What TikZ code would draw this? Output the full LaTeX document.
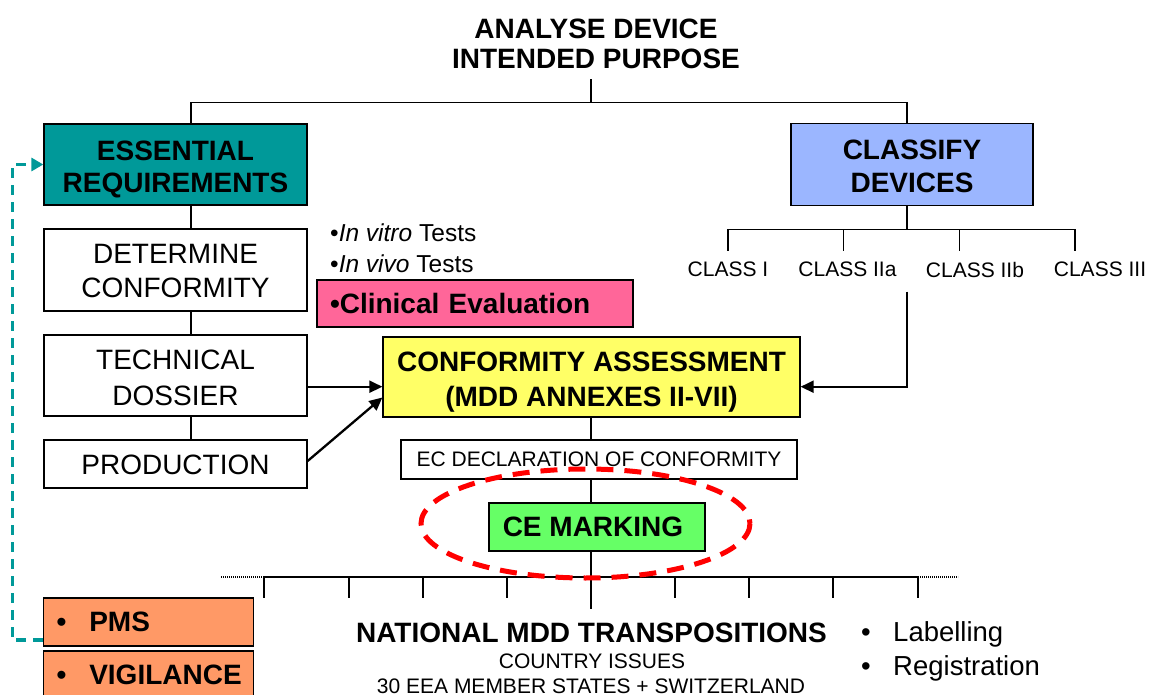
\documentclass[tikz,border=0pt]{standalone}
\usepackage{fontspec}
\setmainfont{Liberation Sans}
\usetikzlibrary{arrows.meta,calc}

\definecolor{erteal}{RGB}{0,153,153}
\definecolor{clsblue}{RGB}{155,182,255}
\definecolor{clinpink}{RGB}{255,102,153}
\definecolor{cayellow}{RGB}{255,255,102}
\definecolor{cegreen}{RGB}{102,255,102}
\definecolor{pmsorange}{RGB}{255,153,102}
\definecolor{markred}{RGB}{255,0,0}

\newcommand{\fsz}[2]{\fontsize{#1}{#2}\selectfont}
% lower a block of text inside its box without changing the box size
\newcommand{\lowertext}[2]{\raisebox{-#1}[\height][\depth]{#2}}

\begin{document}
\begin{tikzpicture}[x=1pt,y=-1pt,
  box/.style={draw=black, line width=1.3pt, rectangle, inner sep=0pt, align=center},
  wire/.style={line width=1.3pt},
  arr/.style={line width=2.3pt, -{Triangle[length=13pt,width=12pt]}},
  feedback/.style={draw=erteal, line width=3.2pt, dash pattern=on 10pt off 7pt,
    -{Triangle[length=12pt,width=13pt]}},
  dotend/.style={line width=1.6pt, dash pattern=on 1.2pt off 0.8pt},
  txt/.style={inner sep=0pt, align=center}
]
\useasboundingbox (0,0) rectangle (1152,695);

% heading
\node[txt, font={\fsz{28}{30}\bfseries}] (title) at (596,44.3)
  {ANALYSE DEVICE\\INTENDED PURPOSE};

% left column
\node[box, fill=erteal, minimum width=263pt, minimum height=81pt,
  font={\fsz{28}{32.5}\bfseries}] (er) at (175.5,164.5)
  {\lowertext{5pt}{\parbox{250pt}{\centering ESSENTIAL\\REQUIREMENTS}}};
\node[box, fill=white, minimum width=263pt, minimum height=82pt,
  font={\fsz{28}{34}}] (det) at (175.5,270)
  {\lowertext{1.5pt}{\parbox{250pt}{\centering DETERMINE\\CONFORMITY}}};
\node[box, fill=white, minimum width=263pt, minimum height=81pt,
  font={\fsz{28}{36.5}}] (tech) at (175.5,375.5)
  {\lowertext{2.5pt}{\parbox{250pt}{\centering TECHNICAL\\DOSSIER}}};
\node[box, fill=white, minimum width=263pt, minimum height=48pt,
  font={\fsz{28}{33}}] (prod) at (175.5,464) {\lowertext{1pt}{PRODUCTION}};

% right column
\node[box, fill=clsblue, minimum width=242pt, minimum height=82pt,
  font={\fsz{28}{32.7}\bfseries}] (cls) at (912,164.5)
  {\lowertext{2pt}{\parbox{230pt}{\centering CLASSIFY\\DEVICES}}};
\node[txt, font={\fsz{21}{25}}] (c1) at (728,269.7) {CLASS I};
\node[txt, font={\fsz{21}{25}}] (c2) at (847.5,269.7) {CLASS IIa};
\node[txt, font={\fsz{21}{25}}] (c3) at (975,269.7) {CLASS IIb};
\node[txt, font={\fsz{21}{25}}] (c4) at (1100,269.7) {CLASS III};

% tests and clinical evaluation
\node[inner sep=0pt, anchor=west, align=left, font={\fsz{24.5}{31}}] (tests) at (330,248)
  {•\textit{In vitro} Tests\\•\textit{In vivo} Tests};
\node[box, fill=clinpink, minimum width=316pt, minimum height=47pt, text width=290pt,
  align=left, font={\fsz{28}{33}\bfseries}] (clin) at (475,303.5) {•Clinical Evaluation};

% central chain
\node[box, fill=cayellow, minimum width=417pt, minimum height=80pt,
  font={\fsz{28}{35}\bfseries}] (ca) at (591.5,377)
  {\lowertext{5pt}{\parbox{405pt}{\centering CONFORMITY ASSESSMENT\\(MDD ANNEXES II-VII)}}};
\node[box, fill=white, minimum width=396pt, minimum height=39pt,
  font={\fsz{21}{25}}] (ec) at (599,459.5) {EC DECLARATION OF CONFORMITY};
\node[box, fill=cegreen, minimum width=216pt, minimum height=48pt,
  font={\fsz{28}{33}\bfseries}] (ce) at (597,527) {CE MARKING\hspace*{8pt}};

% national level
\node[txt, font={\fsz{28}{33}\bfseries}] (nat) at (591.5,633) {NATIONAL MDD TRANSPOSITIONS};
\node[txt, font={\fsz{21}{25}}] (ctry) at (592,661) {COUNTRY ISSUES};
\node[txt, font={\fsz{21}{25}}] (eea) at (591,686) {30 EEA MEMBER STATES + SWITZERLAND};
\node[inner sep=0pt, anchor=base west, font={\fsz{27.5}{33}}] (lab) at (861,641.8)
  {•\hspace{22.4pt}Labelling};
\node[inner sep=0pt, anchor=base west, font={\fsz{27.5}{33}}] (reg) at (861,675.8)
  {•\hspace{22.4pt}Registration};

% post-market boxes
\node[box, fill=pmsorange, minimum width=210pt, minimum height=48pt,
  font={\fsz{28}{33}\bfseries}] (pms) at (148.5,622)
  {\makebox[184pt][l]{•\hspace{23pt}PMS}};
\node[box, fill=pmsorange, minimum width=210pt, minimum height=48pt,
  font={\fsz{28}{33}\bfseries}] (vig) at (148.5,675)
  {\makebox[184pt][l]{•\hspace{23pt}VIGILANCE}};

% top split
\draw[wire] (title.south -| 591,0) ++(0,10) -- (591,102.7);
\draw[wire] (er.north -| 191,0) |- (907,102.7) -- (cls.north -| 907,0);

% left chain
\draw[wire] (er.south -| 191,0) -- (det.north -| 191,0);
\draw[wire] (det.south -| 191,0) -- (tech.north -| 191,0);
\draw[wire] (tech.south -| 191,0) -- (prod.north -| 191,0);

% classes
\coordinate (clsbus) at (907,229.3);
\draw[wire] (cls.south -| clsbus) -- (clsbus);
\draw[wire] (728,250.7) -- (728,229.3) -- (1075,229.3) -- (1075,250.7);
\draw[wire] (843.7,229.3) -- (843.7,250.7);
\draw[wire] (959.3,229.3) -- (959.3,250.7);
\coordinate (clsdrop) at (907,291.7);
\draw[arr] (clsdrop) |- (ca.east |- 0,386.7);

% inputs to conformity assessment
\draw[arr] (tech.east |- 0,386.7) -- (ca.west |- 0,386.7);
\draw[arr] (prod.east |- 0,461) -- (ca.west |- 0,397.5);

% chain down to CE marking
\draw[wire] (ca.south -| 591,0) -- (ec.north -| 591,0);
\draw[wire] (ec.south -| 591,0) -- (ce.north -| 591,0);
\draw[wire] (ce.south -| 591,0) -- (591,609);

% national branches
\draw[wire] (264,577) -- (918,577);
\foreach \x in {264,349,423,507,675,749,833,918}
  \draw[wire] (\x,577) -- (\x,598);
\draw[dotend] (221,577) -- (264,577);
\draw[dotend] (918,577) -- (958,577);

% CE marking highlight
\draw[markred, line width=5pt, dash pattern=on 17pt off 11pt]
  (585.5,523.5) ellipse [x radius=164.5, y radius=54.5];

% post-market feedback loop
\coordinate (fbcorner) at (12.3,640);
\draw[feedback] (pms.west |- 0,640) -- (fbcorner) |- (er.west);
\end{tikzpicture}
\end{document}
